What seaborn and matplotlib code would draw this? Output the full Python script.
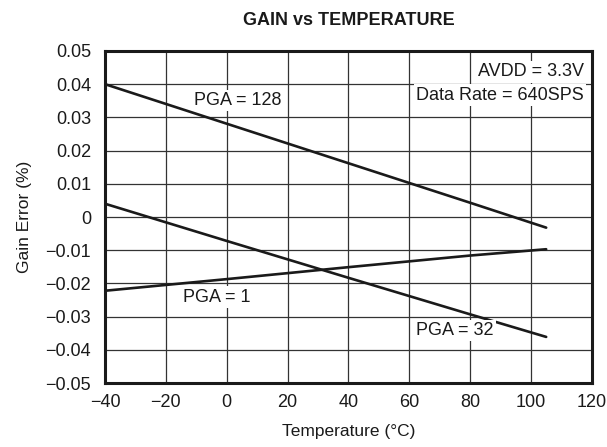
import matplotlib
matplotlib.use("Agg")
import matplotlib.pyplot as plt
import seaborn as sns
import pandas as pd

temperature = [-40, 0, 40, 80, 105]
pga_128 = [0.0400, 0.0281, 0.0162, 0.0043, -0.0032]
pga_32 = [0.0040, -0.0072, -0.0183, -0.0293, -0.0361]
pga_1 = [-0.0222, -0.0187, -0.0151, -0.0116, -0.0097]
series_names = ["PGA = 128", "PGA = 32", "PGA = 1"]

x_ticks = [-40, -20, 0, 20, 40, 60, 80, 100, 120]
x_labels = ["\u221240", "\u221220", "0", "20", "40", "60", "80", "100", "120"]
y_ticks = [-0.05, -0.04, -0.03, -0.02, -0.01, 0, 0.01, 0.02, 0.03, 0.04, 0.05]
y_labels = ["\u22120.05", "\u22120.04", "\u22120.03", "\u22120.02", "\u22120.01", "0",
            "0.01", "0.02", "0.03", "0.04", "0.05"]

rows = []
for name, vals in zip(series_names, [pga_128, pga_32, pga_1]):
    for t, v in zip(temperature, vals):
        rows.append({"Temperature": t, "Gain": v, "Series": name})
df = pd.DataFrame(rows)

sns.set_style("white")
plt.rcParams["font.family"] = ["Liberation Sans", "DejaVu Sans"]

fig = plt.figure(figsize=(6.07, 4.47), dpi=100)
ax = fig.add_axes([0.173, 0.143, 0.802, 0.743])

sns.lineplot(data=df, x="Temperature", y="Gain", units="Series", estimator=None,
             color="#1a1a1a", linewidth=1.9, ax=ax, legend=False)

fs = 13
ax.set_xlim(-40, 120)
ax.set_ylim(-0.05, 0.05)
ax.set_xticks(x_ticks)
ax.set_xticklabels(x_labels)
ax.set_yticks(y_ticks)
ax.set_yticklabels(y_labels)
ax.tick_params(axis="x", labelsize=fs, length=0, pad=8, colors="#1a1a1a")
ax.tick_params(axis="y", labelsize=fs, length=0, pad=10, colors="#1a1a1a")
ax.grid(True, color="#333333", linewidth=0.9)
ax.set_axisbelow(True)
for s in ax.spines.values():
    s.set_visible(True)
    s.set_color("#1a1a1a")
    s.set_linewidth(2.2)

ax.set_xlabel("Temperature (\u00b0C)", fontsize=fs - 0.5, labelpad=9, color="#1a1a1a")
ax.set_ylabel("Gain Error (%)", fontsize=fs - 0.5, labelpad=10, color="#1a1a1a")
ax.set_title("GAIN vs TEMPERATURE", fontsize=13, fontweight="bold", pad=19, color="#1a1a1a")

box = dict(facecolor="white", edgecolor="none", pad=1.5)
ax.text(3.7, 0.0350, "PGA = 128", fontsize=fs, ha="center", va="center", bbox=box, color="#1a1a1a")
ax.text(-3.2, -0.0241, "PGA = 1", fontsize=fs, ha="center", va="center", bbox=box, color="#1a1a1a")
ax.text(75, -0.0342, "PGA = 32", fontsize=fs, ha="center", va="center", bbox=box, color="#1a1a1a")
ax.text(117.4, 0.0437, "AVDD = 3.3V", fontsize=fs, ha="right", va="center", bbox=box, color="#1a1a1a")
ax.text(117.4, 0.0367, "Data Rate = 640SPS", fontsize=fs, ha="right", va="center", bbox=box, color="#1a1a1a")

fig.savefig("out.png", dpi=100)
